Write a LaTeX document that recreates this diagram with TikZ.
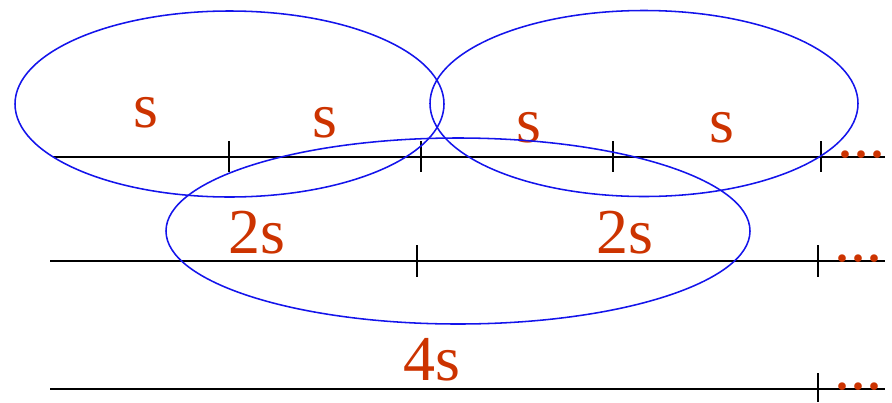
\documentclass[tikz,border=0pt]{standalone}
\usepackage{fontspec}
\setmainfont{Liberation Serif}
\definecolor{sorange}{RGB}{204,51,0}
\definecolor{sblue}{RGB}{20,20,235}
\tikzset{
  lbl/.style={text=sorange, font=\fontsize{45.5}{50}\selectfont, anchor=base, inner sep=0pt},
  moredots/.style={text=sorange, font=\fontsize{45.5}{50}\selectfont, anchor=base west, inner sep=0pt},
  rowline/.style={line width=1.4pt},
  tickline/.style={line width=1.2pt},
  setbox/.style={draw=sblue, line width=1.1pt},
}

\begin{document}
\begin{tikzpicture}[x=0.025cm, y=-0.025cm]
  \useasboundingbox (0,0) rectangle (892,402);

  \coordinate (r1a) at (53,157);
  \coordinate (r1b) at (885,157);
  \coordinate (r2a) at (50,261);
  \coordinate (r2b) at (885,261);
  \coordinate (r3a) at (50,389);
  \coordinate (r3b) at (885,389);
  \draw[rowline] (r1a) -- (r1b);
  \draw[rowline] (r2a) -- (r2b);
  \draw[rowline] (r3a) -- (r3b);

  \foreach \x in {229,421,613,821} \draw[tickline] (\x,141) -- (\x,172);
  \foreach \x in {417,818} \draw[tickline] (\x,245) -- (\x,277);
  \draw[tickline] (818,373) -- (818,402);

  \node[lbl] (s1) at (146,127) {s};
  \node[lbl] (s2) at (325,137) {s};
  \node[lbl] (s3) at (529,142) {s};
  \node[lbl] (s4) at (722,142) {s};
  \node[lbl] (d1) at (257,253) {2s};
  \node[lbl] (d2) at (625,253) {2s};
  \node[lbl] (q1) at (432,380) {4s};

  \node[moredots] (m1) at (837,157) {...};
  \node[moredots] (m2) at (834,261) {...};
  \node[moredots] (m3) at (834,389) {...};

  \draw[setbox] (229.5,104) ellipse [x radius=214.5, y radius=93];
  \draw[setbox] (644,103.5) ellipse [x radius=214, y radius=93];
  \draw[setbox] (458,231) ellipse [x radius=292, y radius=93];
\end{tikzpicture}
\end{document}
